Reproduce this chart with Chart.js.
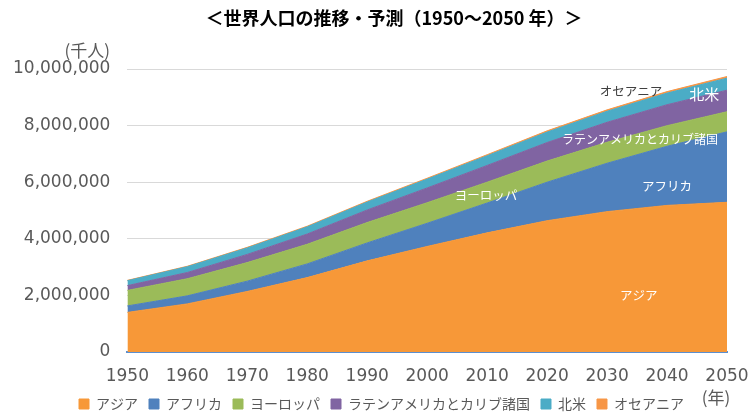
<!DOCTYPE html>
<html>
<head>
<meta charset="utf-8">
<script src="https://cdn.jsdelivr.net/npm/chart.js@4"></script>
<style>
  html, body { margin: 0; padding: 0; background: #fff; }
  #wrap { width: 756px; height: 415px; }
</style>
</head>
<body>
<div id="wrap"><canvas id="chart"></canvas></div>
<script>
// 世界人口（千人）
var years = ['1950', '1960', '1970', '1980', '1990', '2000', '2010', '2020', '2030', '2040', '2050'];
var asia = [1400000, 1700000, 2140000, 2630000, 3220000, 3730000, 4210000, 4640000, 4960000, 5180000, 5290000];
var africa = [228000, 284000, 364000, 483000, 635000, 819000, 1055000, 1360000, 1710000, 2090000, 2490000];
var europe = [549000, 605000, 657000, 694000, 721000, 726000, 736000, 748000, 741000, 728000, 710000];
var latinAmerica = [169000, 220000, 287000, 362000, 443000, 522000, 591000, 654000, 706000, 740000, 762000];
var northAmerica = [173000, 205000, 231000, 254000, 280000, 312000, 343000, 369000, 391000, 410000, 425000];
var oceania = [12900, 16000, 19700, 22900, 27000, 31400, 37000, 43000, 48000, 53000, 57000];

var names = ['アジア', 'アフリカ', 'ヨーロッパ', 'ラテンアメリカとカリブ諸国', '北米', 'オセアニア'];
var series = [asia, africa, europe, latinAmerica, northAmerica, oceania];
var colors = ['#f79838', '#4f81bd', '#9bbb59', '#8064a2', '#4bacc6', '#f79646'];

// 図中ラベル（年, 値）
var areaLabels = [
    { text: 'アジア', x: 2035.3, y: 2020000, color: '#ffffff', size: 12.5 },
    { text: 'アフリカ', x: 2040, y: 5850000, color: '#ffffff', size: 12.5 },
    { text: 'ヨーロッパ', x: 2009.8, y: 5530000, color: '#ffffff', size: 12.5 },
    { text: 'ラテンアメリカとカリブ諸国', x: 2035.5, y: 7520000, color: '#ffffff', size: 12 },
    { text: '北米', x: 2046.2, y: 9110000, color: '#ffffff', size: 15 },
    { text: 'オセアニア', x: 2034, y: 9220000, color: '#404040', size: 12.5 }
];

var JP = '"Noto Sans CJK JP", "Noto Sans", sans-serif';

var datasets = [];
for (var i = 0; i < series.length; i++) {
    datasets.push({
        label: names[i],
        data: series[i],
        backgroundColor: colors[i],
        borderColor: colors[i],
        borderWidth: 1,
        pointRadius: 0,
        tension: 0,
        fill: i === 0 ? 'origin' : '-1'
    });
}

var extras = {
    id: 'extras',
    afterLayout: function (chart) {
        // 凡例の位置合わせ
        var lg = chart.legend;
        var dy = 404 - (lg.top + 11 + 7);
        lg.top += dy;
        lg.bottom = chart.height;
        lg.left += 20;
        lg.right += 20;
    },
    afterDraw: function (chart) {
        var ctx = chart.ctx;
        var xs = chart.scales.x;
        var ys = chart.scales.y;
        ctx.save();
        // title
        ctx.fillStyle = '#000000';
        ctx.font = 'bold 18px ' + JP;
        ctx.textAlign = 'center';
        ctx.textBaseline = 'middle';
        ctx.fillText('＜世界人口の推移・予測（1950～2050 年）＞', 394, 18);
        // axis titles
        ctx.fillStyle = '#595959';
        ctx.font = '17px ' + JP;
        ctx.textAlign = 'right';
        ctx.fillText('(千人)', 110, 51);
        ctx.textAlign = 'center';
        ctx.fillText('(年)', 716, 398);
        // labels inside areas
        for (var k = 0; k < areaLabels.length; k++) {
            var a = areaLabels[k];
            var px = xs.getPixelForValue((a.x - 1950) / 10);
            var py = ys.getPixelForValue(a.y);
            ctx.font = a.size + 'px ' + JP;
            ctx.fillStyle = a.color;
            ctx.fillText(a.text, px, py);
        }
        ctx.restore();
    }
};

new Chart(document.getElementById('chart').getContext('2d'), {
    type: 'line',
    data: { labels: years, datasets: datasets },
    plugins: [extras],
    options: {
        responsive: true,
        maintainAspectRatio: false,
        animation: false,
        layout: { padding: { top: 69, left: -4, right: 29, bottom: 0 } },
        plugins: {
            title: { display: false },
            tooltip: { enabled: false },
            legend: {
                display: true,
                position: 'bottom',
                maxHeight: 13,
                labels: {
                    boxWidth: 10,
                    boxHeight: 10,
                    padding: 11,
                    color: '#595959',
                    font: { family: JP, size: 14 }
                }
            }
        },
        scales: {
            x: {
                offset: false,
                grid: { display: false, drawTicks: false },
                border: { display: true, color: '#5b8fd0', width: 2 },
                ticks: {
                    color: '#595959',
                    padding: 7,
                    maxRotation: 0,
                    font: { family: '"DejaVu Sans"', size: 17, lineHeight: '36px' }
                }
            },
            y: {
                stacked: true,
                min: 0,
                max: 10000000,
                grid: { color: '#d9d9d9', lineWidth: 1, drawTicks: false },
                border: { display: false },
                ticks: {
                    stepSize: 2000000,
                    color: '#595959',
                    padding: 17,
                    font: { family: '"DejaVu Sans"', size: 17 },
                    callback: function (v) { return v.toLocaleString('en-US'); }
                }
            }
        }
    }
});
</script>
</body>
</html>
